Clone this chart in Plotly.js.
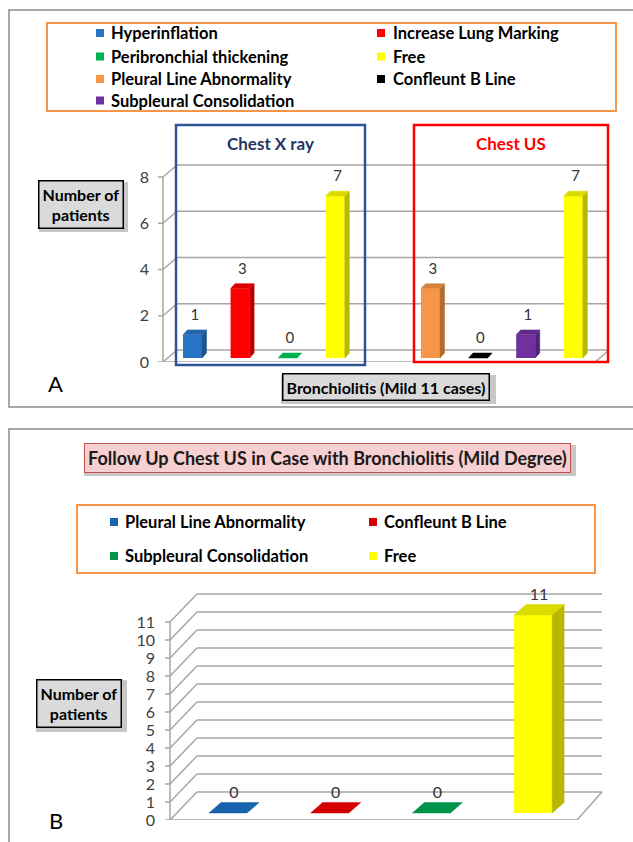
<!DOCTYPE html>
<html><head><meta charset="utf-8">
<script src="https://cdn.plot.ly/plotly-3.0.1.min.js"></script>
<style>html,body{margin:0;padding:0;background:#fff;} #chart{width:633px;height:842px;}</style>
</head><body><div id="chart"></div>
<script>
// ---------- DATA ----------
// Panel A : Bronchiolitis (Mild 11 cases)
const xrayCats = ['Hyperinflation', 'Increase Lung Marking', 'Peribronchial thickening', 'Free'];
const xrayVals = [1, 3, 0, 7];
const usCats = ['Pleural Line Abnormality', 'Confleunt B Line', 'Subpleural Consolidation', 'Free'];
const usVals = [3, 0, 1, 7];
const yTicksA = [0, 2, 4, 6, 8];
// Panel B : Follow up chest US
const fuCats = ['Pleural Line Abnormality', 'Confleunt B Line', 'Subpleural Consolidation', 'Free'];
const fuVals = [0, 0, 0, 11];
const yTicksB = [0, 1, 2, 3, 4, 5, 6, 7, 8, 9, 10, 11];

// ---------- STYLE ----------
const xrayColors = ['#2874C5', '#FF0000', '#00B050', '#FFFF00'];
const usColors = ['#F79646', '#000000', '#7030A0', '#FFFF00'];
const fuColors = ['#1763AD', '#D40000', '#00934A', '#FFFF00'];
const FONT = 'Lato, Carlito, Calibri, "Open Sans", sans-serif';
const W = 633, H = 842;
const px = v => v / W, py = v => 1 - v / H;

function shade(hex, f) {
  const n = parseInt(hex.slice(1), 16);
  const r = (n >> 16) & 255, g = (n >> 8) & 255, b = n & 255;
  return 'rgb(' + Math.round(r * f) + ',' + Math.round(g * f) + ',' + Math.round(b * f) + ')';
}

// geometry (data units) for the pseudo-3D look
const GA = {xa: 'x', ya: 'y', w: 0.40, dx: 0.095, dy: 0.216, base: 0.173,
  bdx: 0.294, bdy: 0.519, xL: -0.620, rFront: 8.46, rBack: 8.75, tick: 0.105, lab: 0.60, lfs: 15};
const GB = {xa: 'x2', ya: 'y2', w: 0.374, dx: 0.118, dy: 0.583, base: 0.389,
  bdx: 0.265, bdy: 1.556, xL: -(228 - 170) / 101.7, rFront: 3.432, rBack: 3.677, tick: 0.049, lab: 0.50, lfs: 16};

const traces = [];
const labelTraces = [];
function addBar(G, x, v, color, name) {
  const top = G.base + v;
  traces.push({type: 'bar', x: [x], y: [v], base: [G.base], width: [G.w], name: name,
    xaxis: G.xa, yaxis: G.ya, showlegend: false,
    marker: {color: color, line: {width: 0}}, hoverinfo: 'skip'});
  const l = x - G.w / 2, r = x + G.w / 2;
  if (v > 0) {
    const sc = shade(color, 0.72);
    traces.push({type: 'scatter', mode: 'lines', fill: 'toself', fillcolor: sc,
      x: [r, r + G.dx, r + G.dx, r, r], y: [G.base, G.base + G.dy, top + G.dy, top, G.base],
      line: {width: 0.5, color: sc}, xaxis: G.xa, yaxis: G.ya, showlegend: false, hoverinfo: 'skip'});
  }
  const tc = v > 0 ? shade(color, 0.86) : color;
  traces.push({type: 'scatter', mode: 'lines', fill: 'toself', fillcolor: tc,
    x: [l, r, r + G.dx, l + G.dx, l], y: [top, top, top + G.dy, top + G.dy, top],
    line: {width: 0.5, color: tc}, xaxis: G.xa, yaxis: G.ya, showlegend: false, hoverinfo: 'skip'});
  labelTraces.push({type: 'scatter', mode: 'text', x: [x + G.dx / 2], y: [top + G.dy + G.lab],
    text: [String(v)], textposition: 'middle center', cliponaxis: false,
    textfont: {family: FONT, size: G.lfs, color: '#333'}, xaxis: G.xa, yaxis: G.ya,
    showlegend: false, hoverinfo: 'skip'});
}

xrayCats.forEach((c, i) => addBar(GA, i, xrayVals[i], xrayColors[i], c));
usCats.forEach((c, i) => addBar(GA, 5 + i, usVals[i], usColors[i], c));
fuCats.forEach((c, i) => addBar(GB, i, fuVals[i], fuColors[i], c));

// 3D frame: side wall, back grid lines, floor
function frame(G, ticks) {
  const L = {color: '#A6A6A6', width: 1.5};
  const s = [];
  const mk = (x0, y0, x1, y1) => ({type: 'line', xref: G.xa, yref: G.ya, x0, y0, x1, y1, line: L, layer: 'below'});
  ticks.forEach(v => {
    s.push(mk(G.xL, v, G.xL + G.bdx, v + G.bdy));
    s.push(mk(G.xL + G.bdx, v + G.bdy, G.rBack, v + G.bdy));
    s.push(mk(G.xL - G.tick, v, G.xL, v));
  });
  s.push(mk(G.xL, 0, G.xL, Math.max(...ticks)));
  s.push(mk(G.xL, 0, G.rFront, 0));
  s.push(mk(G.rFront, 0, G.rBack, G.bdy));
  return s;
}

const shapes = [].concat(frame(GA, yTicksA), frame(GB, yTicksB));
const rectP = (x0, y0, x1, y1, line, fill, layer) => ({type: 'rect', xref: 'paper', yref: 'paper',
  x0: px(x0), x1: px(x1), y0: py(y0), y1: py(y1), line: line, fillcolor: fill || 'rgba(0,0,0,0)', layer: layer || 'above'});
// panel borders
shapes.push(rectP(9, 10, 650, 407, {color: '#8C8C8C', width: 1.5}));
shapes.push(rectP(9, 429, 650, 870, {color: '#8C8C8C', width: 1.5}));
// group boxes
shapes.push(rectP(176, 125, 365, 365, {color: '#2F5597', width: 2.5}));
shapes.push(rectP(414, 125, 608, 362, {color: '#FF0000', width: 2.5}));
// soft shadows behind label boxes
[[39, 182, 128, 232], [281, 375, 496, 404], [36, 680, 127, 732], [84, 445, 576, 476]].forEach(b => {
  shapes.push(rectP(b[0], b[1], b[2], b[3], {width: 0}, 'rgba(0,0,0,0.22)', 'below'));
});
// legend frames
shapes.push(rectP(47, 23, 616, 111, {color: '#F79646', width: 2}));
shapes.push(rectP(77, 505, 595, 573, {color: '#F79646', width: 2}));

const annFont = {family: FONT, size: 16, color: '#000', weight: 'bold'};
const ann = (x, y, text, font, extra) => Object.assign({xref: 'paper', yref: 'paper', x: px(x), y: py(y),
  xanchor: 'center', yanchor: 'middle', text: text, showarrow: false, font: font}, extra || {});
const annotations = [
  ann(80.5, 204, 'Number of<br>patients', annFont, {bgcolor: '#DADADA', bordercolor: '#000', borderwidth: 1.5, borderpad: 3}),
  ann(385.5, 386.5, 'Bronchiolitis (Mild 11 cases)', annFont, {bgcolor: '#DADADA', bordercolor: '#000', borderwidth: 1.5, borderpad: 3}),
  ann(270, 143, 'Chest X ray', {family: FONT, size: 17, color: '#1F3864', weight: 'bold'}),
  ann(511, 143, 'Chest US', {family: FONT, size: 17, color: '#FF0000', weight: 'bold'}),
  ann(55, 383, 'A', {family: FONT, size: 22, color: '#000'}),
  ann(327, 457.5, 'Follow Up Chest US in Case with Bronchiolitis (Mild Degree)', {family: FONT, size: 18, color: '#1a1a1a', weight: 'bold'},
    {bgcolor: '#F7CFD0', bordercolor: '#C0504D', borderwidth: 1, borderpad: 3}),
  ann(79, 703, 'Number of<br>patients', annFont, {bgcolor: '#DADADA', bordercolor: '#000', borderwidth: 1.5, borderpad: 3}),
  ann(56, 820, 'B', {family: FONT, size: 22, color: '#000'})
];

// custom two-column legends (built from category and colour arrays)
const legA = xrayCats.map((c, i) => [c, xrayColors[i]])
  .concat(usCats.map((c, i) => [c, usColors[i]]).filter(e => e[0] !== 'Free'));
const legB = fuCats.map((c, i) => [c, fuColors[i]]);
function legend(items, rows, sqX, txX) {
  items.forEach((it, k) => {
    const r = Math.floor(k / 2), c = k % 2, y = rows[r];
    shapes.push(rectP(sqX[c], y - 4, sqX[c] + 8, y + 4, {width: 0}, it[1]));
    annotations.push(ann(txX[c], y, it[0], {family: FONT, size: 16.5, color: '#000', weight: 'bold'}, {xanchor: 'left'}));
  });
}
legend(legA, [33, 56.5, 79, 100.5], [96, 377], [109, 391]);
legend(legB, [522, 556], [110, 369], [123, 382]);

const layout = {
  width: W, height: H, autosize: false, margin: {l: 0, r: 0, t: 0, b: 0},
  paper_bgcolor: '#fff', plot_bgcolor: 'rgba(0,0,0,0)', barmode: 'overlay', showlegend: false,
  xaxis: {domain: [px(153), px(612)], range: [-(192.5 - 153) / 47.6, (612 - 192.5) / 47.6], visible: false, fixedrange: true},
  yaxis: {domain: [py(362), py(130)], range: [0, (362 - 130) / 23.125], tickvals: yTicksA, ticks: '', showgrid: false,
    zeroline: false, showline: false, ticklabelstandoff: 3, tickfont: {family: FONT, size: 16, color: '#404040'}, fixedrange: true},
  xaxis2: {domain: [px(158), px(612)], range: [-(228 - 158) / 101.7, (612 - 228) / 101.7], visible: false, anchor: 'y2', fixedrange: true},
  yaxis2: {domain: [py(820), py(585)], range: [0, (820 - 585) / 18], tickvals: yTicksB, ticks: '', showgrid: false, anchor: 'x2',
    zeroline: false, showline: false, ticklabelstandoff: 2, tickfont: {family: FONT, size: 16, color: '#404040'}, fixedrange: true},
  shapes: shapes, annotations: annotations
};

Plotly.newPlot('chart', traces.concat(labelTraces), layout, {displayModeBar: false, staticPlot: true});
</script></body></html>
